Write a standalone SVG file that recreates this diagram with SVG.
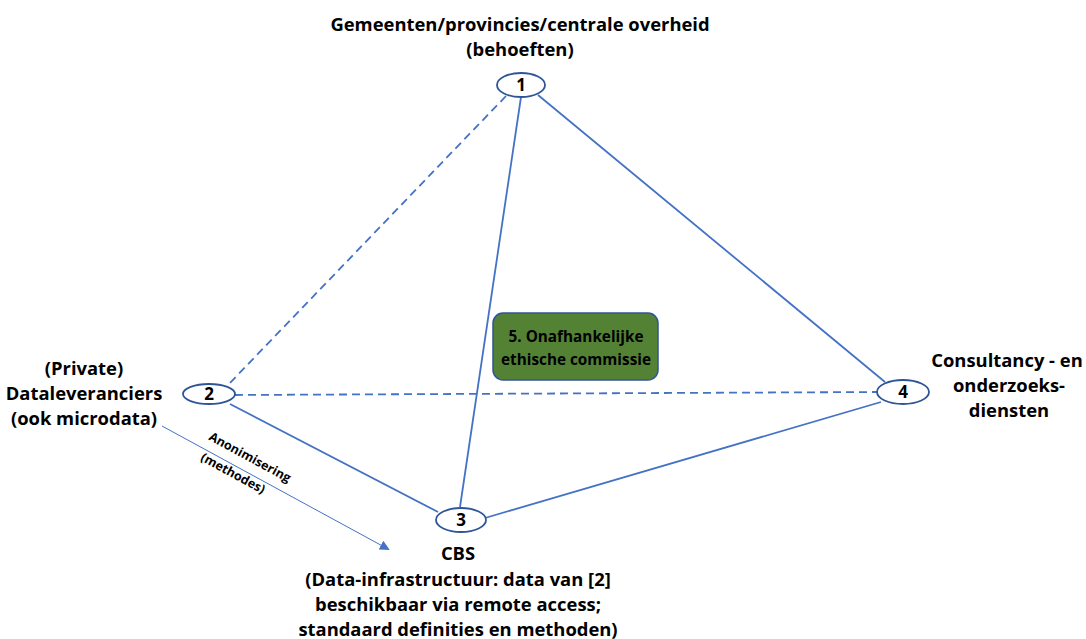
<svg xmlns="http://www.w3.org/2000/svg" width="1086" height="639" viewBox="0 0 1086 639">
<style>
.t{font-family:"Open Sans","Liberation Sans",sans-serif;font-weight:bold;font-size:18.4px;fill:#000;text-anchor:middle}
.n{font-family:"Open Sans","Liberation Sans",sans-serif;font-weight:bold;font-size:17px;fill:#000;text-anchor:middle}
.s{font-family:"Open Sans","Liberation Sans",sans-serif;font-weight:bold;font-size:12.5px;fill:#000;text-anchor:middle}
.g{font-family:"Open Sans","Liberation Sans",sans-serif;font-weight:bold;font-size:15.3px;fill:#000;text-anchor:middle}
.e{fill:#fff;stroke:#2F5597;stroke-width:1.8}
.l{stroke:#4472C4;stroke-width:1.8;fill:none}
.d{stroke:#4472C4;stroke-width:1.8;fill:none;stroke-dasharray:8 5}
</style>
<defs>
<marker id="ah" markerWidth="10" markerHeight="10" refX="8" refY="5" orient="auto" markerUnits="userSpaceOnUse">
<path d="M0,0 L10,5 L0,10 z" fill="#4472C4"/>
</marker>
</defs>
<g id="connectors">
<line class="l" x1="538" y1="95" x2="885" y2="382"/>
<line class="l" x1="521" y1="97" x2="460" y2="507"/>
<line class="d" x1="506" y1="96" x2="228" y2="385"/>
<line class="d" x1="235" y1="395" x2="877" y2="392"/>
<line class="l" x1="230" y1="404" x2="438" y2="512"/>
<line class="l" x1="485" y1="518" x2="881" y2="402"/>
<line stroke="#4472C4" stroke-width="1" x1="162" y1="426" x2="388" y2="549" marker-end="url(#ah)"/>
<text class="s" transform="translate(248,461) rotate(28.5)">Anonimisering</text>
<text class="s" transform="translate(231,477) rotate(28.5)">(methodes)</text>
</g>
<g id="node1">
<ellipse class="e" cx="521" cy="85" rx="24" ry="12"/>
<text class="n" x="521" y="91">1</text>
<text class="t" x="520" y="31">Gemeenten/provincies/centrale overheid</text>
<text class="t" x="520" y="56">(behoeften)</text>
</g>
<g id="node2">
<ellipse class="e" cx="209" cy="394" rx="26" ry="10"/>
<text class="n" x="209" y="400">2</text>
<text class="t" x="84" y="375">(Private)</text>
<text class="t" x="84" y="400">Dataleveranciers</text>
<text class="t" x="84" y="425">(ook microdata)</text>
</g>
<g id="node3">
<ellipse class="e" cx="461" cy="520" rx="25" ry="12"/>
<text class="n" x="461" y="526">3</text>
<text class="t" x="458" y="560">CBS</text>
<text class="t" x="458" y="586">(Data-infrastructuur: data van [2]</text>
<text class="t" x="458" y="611">beschikbaar via remote access;</text>
<text class="t" x="458" y="636">standaard definities en methoden)</text>
</g>
<g id="node4">
<ellipse class="e" cx="903" cy="392" rx="26" ry="12"/>
<text class="n" x="903" y="398">4</text>
<text class="t" x="1007" y="367">Consultancy - en</text>
<text class="t" x="1009" y="392">onderzoeks-</text>
<text class="t" x="1009" y="417">diensten</text>
</g>
<g id="node5">
<rect x="493" y="313" width="165" height="67" rx="10" fill="#548235" stroke="#2F5597" stroke-width="1.5"/>
<text class="g" x="576" y="342">5. Onafhankelijke</text>
<text class="g" x="576" y="365">ethische commissie</text>
</g>
</svg>
